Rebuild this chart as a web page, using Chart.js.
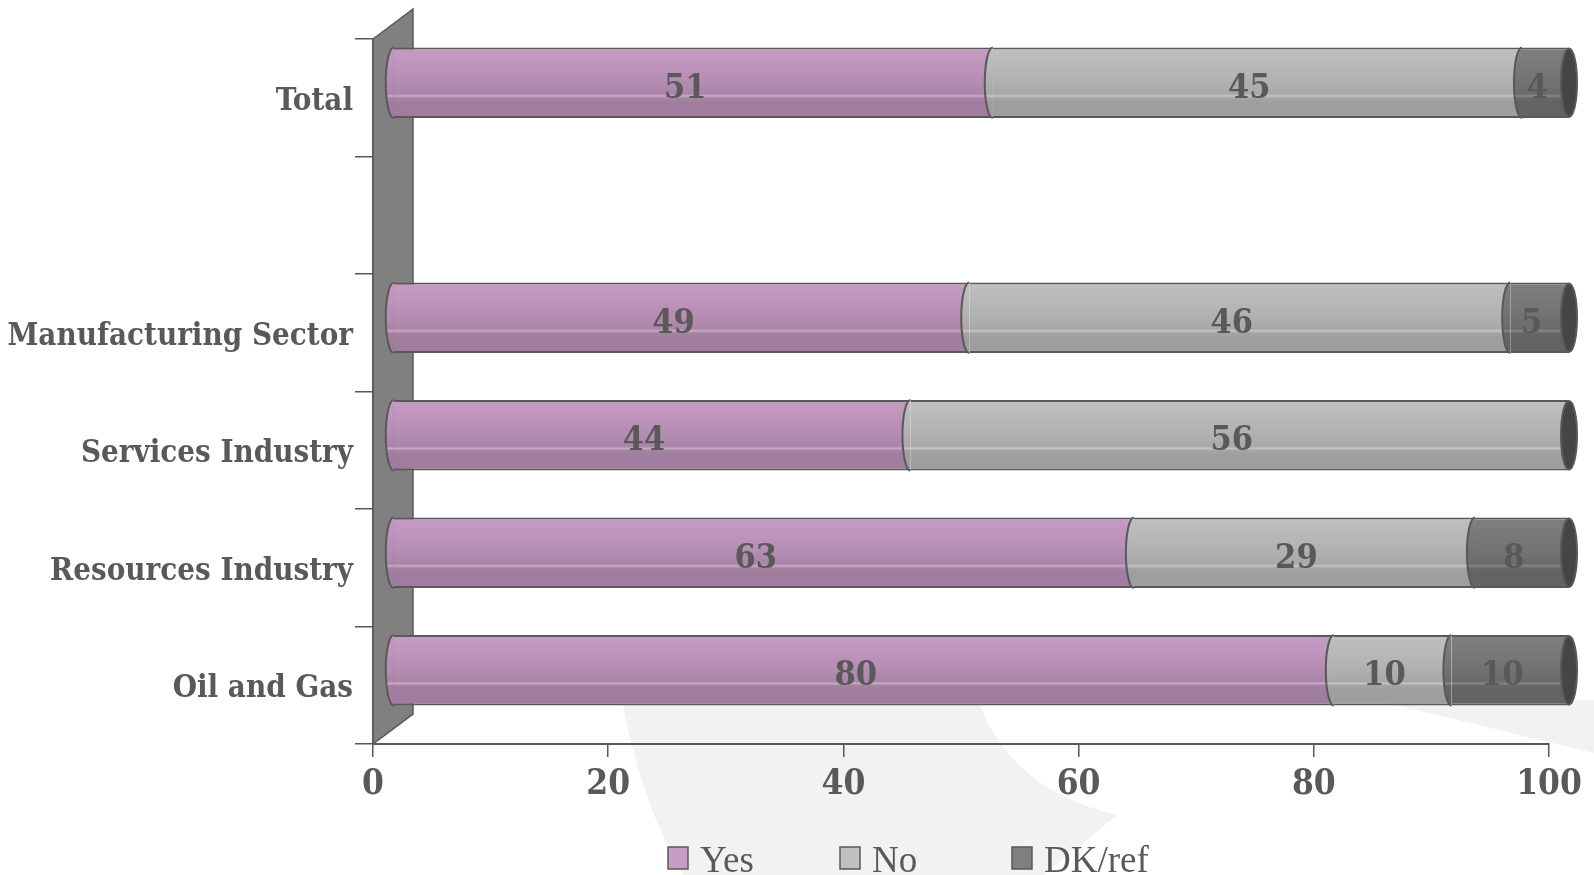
<!DOCTYPE html>
<html>
<head>
<meta charset="utf-8">
<script src="https://cdn.jsdelivr.net/npm/chart.js@4.4.1/dist/chart.umd.min.js"></script>
<style>
  html, body { margin: 0; padding: 0; background: #ffffff; }
  #wrap { width: 1594px; height: 875px; position: relative; }
</style>
</head>
<body>
<div id="wrap"><canvas id="c" width="1594" height="875"></canvas></div>
<script>
// ---------------- data ----------------
const categories = ['Total', '', 'Manufacturing Sector', 'Services Industry', 'Resources Industry', 'Oil and Gas'];
const seriesNames = ['Yes', 'No', 'DK/ref'];
const yesValues = [51, null, 49, 44, 63, 80];
const noValues  = [45, null, 46, 56, 29, 10];
const dkValues  = [4,  null, 5,  0,  8,  10];
const xTickMin = 0, xTickMax = 100, xTickStep = 20;

// ---------------- styles ----------------
const TEXT = '#595959';
const LINE = '#595959';
const FONT = '"DejaVu Serif Condensed", "DejaVu Serif", serif';
const BAR_PCT = 0.6;
const DEPTH_X = 40, DEPTH_Y = -30;
const swatch = ['#c99cc7', '#c0c0c0', '#808080'];
const palettes = [
  [[0,'#bf93bd'],[0.05,'#c79bc5'],[0.12,'#cba0c9'],[0.15,'#dab8d8'],[0.18,'#c99dc7'],[0.3,'#c398c1'],[0.45,'#bf94bd'],[0.6,'#b98fb7'],[0.75,'#b28ab0'],[0.87,'#ab85a9'],[0.9,'#c9a9c7'],[0.93,'#a7829f'],[1,'#a07c9e']],
  [[0,'#b9b9b9'],[0.05,'#c0c0c0'],[0.12,'#c3c3c3'],[0.15,'#d4d4d4'],[0.18,'#c2c2c2'],[0.3,'#bdbdbd'],[0.45,'#b9b9b9'],[0.6,'#b4b4b4'],[0.75,'#aeaeae'],[0.87,'#a8a8a8'],[0.9,'#c4c4c4'],[0.93,'#a4a4a4'],[1,'#9e9e9e']],
  [[0,'#797979'],[0.05,'#808080'],[0.12,'#838383'],[0.15,'#969696'],[0.18,'#818181'],[0.3,'#7d7d7d'],[0.45,'#797979'],[0.6,'#757575'],[0.75,'#707070'],[0.87,'#6b6b6b'],[0.9,'#878787'],[0.93,'#676767'],[1,'#636363']]
];

function gradFill(si) {
  return function (c) {
    const ch = c.chart, ys = ch.scales && ch.scales.y;
    if (!ys || !ch.chartArea || c.type !== 'data') return swatch[si];
    const yc = ys.getPixelForValue(c.dataIndex) + DEPTH_Y / 2;
    const band = (ys.bottom - ys.top) / categories.length;
    const half = band * BAR_PCT / 2;
    const g = ch.ctx.createLinearGradient(0, yc - half, 0, yc + half);
    palettes[si].forEach(s => g.addColorStop(s[0], s[1]));
    return g;
  };
}

const seriesData = [yesValues, noValues, dkValues];
const datasets = seriesNames.map((name, i) => ({
  label: name,
  data: seriesData[i],
  backgroundColor: gradFill(i),
  borderColor: LINE,
  borderWidth: { top: 2, bottom: 2, left: 0, right: 0 },
  borderSkipped: false,
  barPercentage: BAR_PCT,
  categoryPercentage: 1.0
}));

// ---------------- plugins ----------------
const backdrop = {
  id: 'backdrop',
  beforeDraw(chart) {
    const ctx = chart.ctx;
    ctx.save();
    ctx.fillStyle = '#f2f2f2';
    ctx.beginPath();
    ctx.moveTo(622, 700);
    ctx.quadraticCurveTo(640, 800, 683, 875);
    ctx.lineTo(1044, 875);
    ctx.lineTo(1117, 815);
    ctx.quadraticCurveTo(1010, 790, 978, 700);
    ctx.closePath();
    ctx.fill();
    ctx.beginPath();
    ctx.moveTo(1375, 700);
    ctx.lineTo(1594, 700);
    ctx.lineTo(1594, 753);
    ctx.closePath();
    ctx.fill();
    ctx.restore();
  }
};

const cylinder = {
  id: 'cylinder',
  beforeDatasetsDraw(chart) {
    const ctx = chart.ctx, a = chart.chartArea;
    ctx.save();
    ctx.fillStyle = '#808080';
    ctx.strokeStyle = LINE;
    ctx.lineWidth = 1.5;
    ctx.beginPath();
    ctx.moveTo(a.left, a.bottom);
    ctx.lineTo(a.left, a.top);
    ctx.lineTo(a.left + DEPTH_X, a.top + DEPTH_Y);
    ctx.lineTo(a.left + DEPTH_X, a.bottom + DEPTH_Y);
    ctx.closePath();
    ctx.fill();
    ctx.stroke();
    ctx.restore();
    ctx.save();
    ctx.translate(DEPTH_X / 2, DEPTH_Y / 2);
  },
  afterDatasetsDraw(chart) {
    const ctx = chart.ctx;
    const rx = 8;
    const n = categories.length;
    for (let i = 0; i < n; i++) {
      let last = null;
      chart.data.datasets.forEach((ds, di) => {
        const v = ds.data[i];
        if (!v) return;
        const el = chart.getDatasetMeta(di).data[i];
        const p = el.getProps(['x', 'y', 'base', 'height'], true);
        const h = p.height;
        ctx.save();
        ctx.beginPath();
        ctx.ellipse(p.base, p.y, rx, h / 2, 0, Math.PI / 2, 3 * Math.PI / 2);
        ctx.closePath();
        ctx.fillStyle = el.options.backgroundColor;
        ctx.fill();
        ctx.beginPath();
        ctx.ellipse(p.base, p.y, rx, h / 2, 0, Math.PI / 2, 3 * Math.PI / 2);
        ctx.strokeStyle = LINE;
        ctx.lineWidth = 2;
        ctx.stroke();
        ctx.restore();
        last = p;
      });
      if (last) {
        ctx.save();
        ctx.beginPath();
        ctx.ellipse(last.x, last.y, rx, last.height / 2 - 1, 0, 0, 2 * Math.PI);
        ctx.fillStyle = '#454545';
        ctx.fill();
        ctx.strokeStyle = LINE;
        ctx.lineWidth = 2;
        ctx.stroke();
        ctx.restore();
      }
    }
    ctx.save();
    ctx.font = 'bold 34px ' + FONT;
    ctx.fillStyle = TEXT;
    ctx.textAlign = 'center';
    ctx.textBaseline = 'middle';
    chart.data.datasets.forEach((ds, di) => {
      chart.getDatasetMeta(di).data.forEach((el, i) => {
        const v = ds.data[i];
        if (!v) return;
        const p = el.getProps(['x', 'y', 'base'], true);
        ctx.fillText(String(v), (p.x + p.base) / 2 - 8, p.y + 6);
      });
    });
    ctx.restore();
    ctx.restore(); // undo translate
  }
};

const legendPlugin = {
  id: 'customLegend',
  afterDraw(chart) {
    const ctx = chart.ctx;
    ctx.save();
    ctx.font = '37px "Liberation Serif", serif';
    ctx.textBaseline = 'alphabetic';
    chart.data.datasets.forEach((ds, i) => {
      const bx = 668 + i * 172;
      ctx.fillStyle = swatch[i];
      ctx.fillRect(bx, 847, 20, 22);
      ctx.strokeStyle = LINE;
      ctx.lineWidth = 1.5;
      ctx.strokeRect(bx, 847, 20, 22);
      ctx.fillStyle = TEXT;
      ctx.fillText(ds.label, bx + 32, 872);
    });
    ctx.restore();
  }
};

// ---------------- chart ----------------
new Chart(document.getElementById('c'), {
  type: 'bar',
  data: { labels: categories, datasets },
  options: {
    indexAxis: 'y',
    responsive: false,
    animation: false,
    layout: { padding: { top: 39, right: 45, left: 0, bottom: 0 } },
    plugins: { legend: { display: false }, tooltip: { enabled: false } },
    scales: {
      x: {
        stacked: true,
        min: xTickMin, max: xTickMax,
        ticks: { stepSize: xTickStep, color: TEXT, font: { family: FONT, size: 35, weight: 'bold', lineHeight: 1.2 }, padding: 7 },
        grid: { drawOnChartArea: false, drawTicks: true, tickLength: 13, color: LINE, lineWidth: 1.5 },
        border: { display: true, color: LINE, width: 2 },
        afterFit(s) { s.height = 131; }
      },
      y: {
        stacked: true,
        ticks: { color: TEXT, font: { family: FONT, size: 31, weight: 'bold' }, padding: 2, labelOffset: 4 },
        grid: { drawOnChartArea: false, drawTicks: true, tickLength: 18, color: LINE, lineWidth: 1.5, offset: true },
        border: { display: true, color: LINE, width: 1.5 },
        afterFit(s) { s.width = 373; }
      }
    }
  },
  plugins: [backdrop, cylinder, legendPlugin]
});
</script>
</body>
</html>
